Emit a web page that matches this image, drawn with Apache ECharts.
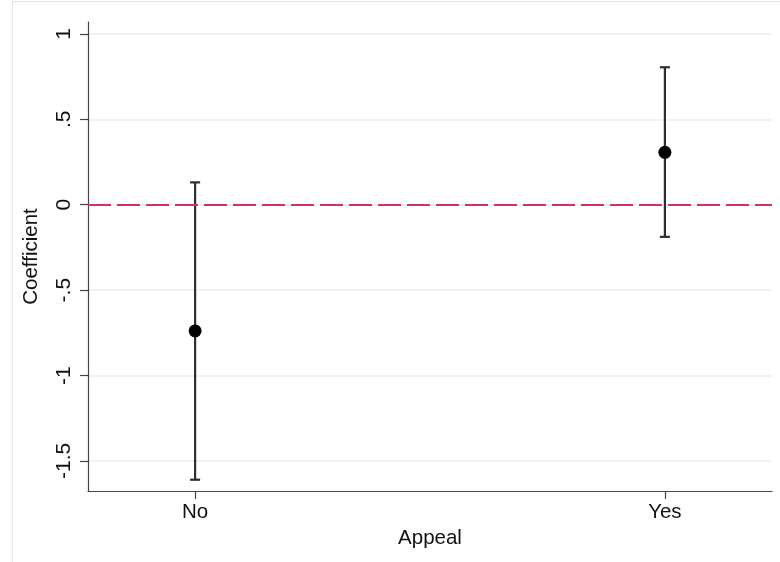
<!DOCTYPE html>
<html>
<head>
<meta charset="utf-8">
<script src="https://cdn.jsdelivr.net/npm/echarts@6/dist/echarts.min.js"></script>
<style>html,body{margin:0;padding:0;background:#fff}#c{width:780px;height:562px}</style>
</head>
<body>
<div id="c"></div>
<script>
// Data
var categories = ['No', 'Yes'];
var categoryPos = [1, 2];
var coefficients = [-0.739, 0.307];
var ciLower = [-1.61, -0.188];
var ciUpper = [0.131, 0.805];
var yTickValues = [-1.5, -1, -0.5, 0, 0.5, 1];
var yTickLabels = ['-1.5', '-1', '-.5', '0', '.5', '1'];

var FONT = '"Liberation Sans", Arial, Helvetica, sans-serif';
var chart = echarts.init(document.getElementById('c'), null, {renderer: 'canvas'});

var errData = categoryPos.map(function (x, i) { return [x, ciLower[i], ciUpper[i]]; });
var ptData = categoryPos.map(function (x, i) { return [x, coefficients[i]]; });

chart.setOption({
  animation: false,
  backgroundColor: '#fff',
  grid: {left: 88, right: 8, top: 22, bottom: 71, containLabel: false},
  graphic: [
    {type: 'line', shape: {x1: 12.5, y1: 1, x2: 12.5, y2: 562}, style: {stroke: '#e6e6e6', lineWidth: 1}, silent: true},
    {type: 'line', shape: {x1: 12, y1: 1.5, x2: 780, y2: 1.5}, style: {stroke: '#e6e6e6', lineWidth: 1}, silent: true}
  ],
  xAxis: {
    type: 'value',
    min: 0.772,
    max: 2.228,
    name: 'Appeal',
    nameLocation: 'middle',
    nameGap: 33,
    nameTextStyle: {fontFamily: FONT, fontSize: 20.5, color: '#111'},
    axisLine: {show: true, onZero: false, lineStyle: {color: '#444', width: 1.2}},
    axisTick: {show: true, length: 8, customValues: categoryPos, lineStyle: {color: '#444', width: 1.2}},
    axisLabel: {
      customValues: categoryPos,
      margin: 11,
      fontFamily: FONT, fontSize: 20.5, color: '#111',
      formatter: function (v) { var i = categoryPos.indexOf(v); return i >= 0 ? categories[i] : ''; }
    },
    splitLine: {show: false}
  },
  yAxis: {
    type: 'value',
    min: -1.676,
    max: 1.07,
    name: 'Coefficient',
    nameLocation: 'middle',
    nameGap: 46,
    nameRotate: 90,
    nameTextStyle: {fontFamily: FONT, fontSize: 20.5, color: '#111'},
    axisLine: {show: true, onZero: false, lineStyle: {color: '#444', width: 1.2}},
    axisTick: {show: true, length: 8, customValues: yTickValues, lineStyle: {color: '#444', width: 1.2}},
    axisLabel: {
      customValues: yTickValues,
      rotate: 90,
      margin: 13,
      fontFamily: FONT, fontSize: 21, color: '#111',
      formatter: function (v) {
        for (var i = 0; i < yTickValues.length; i++) { if (Math.abs(yTickValues[i] - v) < 1e-9) return yTickLabels[i]; }
        return '';
      }
    },
    splitLine: {show: true, lineStyle: {color: '#e6eff1', width: 1.5}}
  },
  series: [
    {
      type: 'custom',
      data: errData,
      renderItem: function (params, api) {
        var x = api.value(0);
        var lo = api.coord([x, api.value(1)]);
        var hi = api.coord([x, api.value(2)]);
        var hw = 5;
        var st = {stroke: '#2e2e2e', lineWidth: 2.2};
        return {
          type: 'group',
          children: [
            {type: 'line', shape: {x1: lo[0], y1: lo[1], x2: hi[0], y2: hi[1]}, style: st},
            {type: 'line', shape: {x1: lo[0] - hw, y1: lo[1], x2: lo[0] + hw, y2: lo[1]}, style: st},
            {type: 'line', shape: {x1: hi[0] - hw, y1: hi[1], x2: hi[0] + hw, y2: hi[1]}, style: st}
          ]
        };
      },
      z: 3,
      markLine: {
        silent: true,
        symbol: 'none',
        label: {show: false},
        lineStyle: {color: '#d0345c', width: 2, type: [23, 6], opacity: 1},
        data: [{yAxis: 0}]
      }
    },
    {
      type: 'scatter',
      data: ptData,
      symbol: 'circle',
      symbolSize: 13,
      itemStyle: {color: '#000', opacity: 1},
      z: 4
    }
  ]
});
</script>
</body>
</html>
